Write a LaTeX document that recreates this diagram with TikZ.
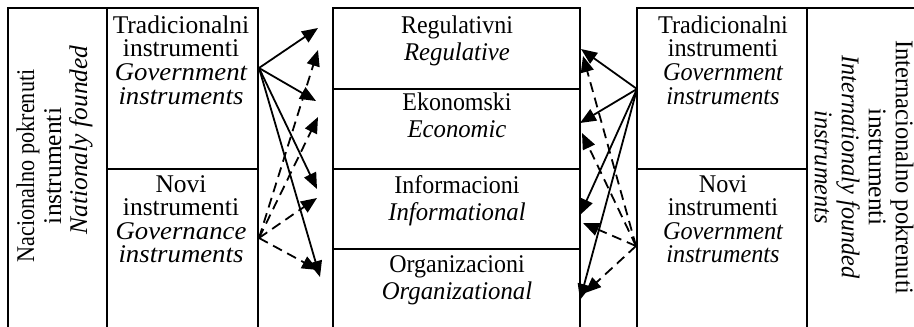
\documentclass[tikz,border=0pt]{standalone}
\usepackage{fontspec}
\setmainfont{Liberation Serif}
\usetikzlibrary{arrows.meta}

% horizontally scaled text lines
\newcommand{\hsq}[2]{\scalebox{#1}[1]{#2}}

\begin{document}
\begin{tikzpicture}[x=1pt,y=-1pt,
  frame/.style={line width=2pt},
  cell/.style={align=center, inner sep=0pt, anchor=north,
    font=\fontsize{25.5}{23.6}\selectfont},
  mid/.style={cell, font=\fontsize{25.5}{26.5}\selectfont},
  side/.style={align=center, inner sep=0pt,
    font=\fontsize{25.5}{27}\selectfont},
  link/.style={line width=1.8pt, -{Triangle[length=16pt,width=13pt]}},
  dlink/.style={link, dash pattern=on 10pt off 6pt},
]
\useasboundingbox (0,0) rectangle (914,327);

% left block: national instruments
\draw[frame] (8,327) -- (8,8) -- (258,8) -- (258,327);
\draw[frame] (107,8) -- (107,327);
\draw[frame] (107,169) -- (258,169);

% centre block: instrument types
\draw[frame] (333,327) -- (333,8) -- (580,8) -- (580,327);
\draw[frame] (333,89) -- (580,89);
\draw[frame] (333,169) -- (580,169);
\draw[frame] (333,249) -- (580,249);

% right block: international instruments
\draw[frame] (637,327) -- (637,8) -- (914,8);
\draw[frame] (807,8) -- (807,327);
\draw[frame] (637,169) -- (807,169);

% left texts
\node[side, rotate=90] (natl) at (39,166)
  {\hsq{0.87}{Nacionalno pokrenuti}\\instrumenti};
\node[side, rotate=90] (natlen) at (81,140) {\itshape Nationaly founded};
\node[cell] (ltrad) at (181,15.5)
  {Tradicionalni\\instrumenti\\
   \hsq{1.05}{\itshape Government}\\\hsq{1.05}{\itshape instruments}};
\node[cell] (lnew) at (181,175)
  {Novi\\instrumenti\\
   \hsq{1.05}{\itshape Governance}\\\hsq{1.05}{\itshape instruments}};

% centre texts
\node[mid] (reg) at (457,15.8) {\hsq{0.94}{Regulativni}\\\hsq{0.97}{\itshape Regulative}};
\node[mid] (eko) at (457,92.8) {\hsq{0.94}{Ekonomski}\\\hsq{0.97}{\itshape Economic}};
\node[mid] (inf) at (457,175.8) {\hsq{0.94}{Informacioni}\\\hsq{0.97}{\itshape Informational}};
\node[mid] (org) at (457,255.8) {\hsq{0.94}{Organizacioni}\\\hsq{0.97}{\itshape Organizational}};

% right texts
\node[cell] (rtrad) at (723,15.5)
  {\hsq{0.95}{Tradicionalni}\\\hsq{0.95}{instrumenti}\\
   \hsq{0.95}{\itshape Government}\\\hsq{0.95}{\itshape instruments}};
\node[cell] (rnew) at (723,175)
  {\hsq{0.95}{Novi}\\\hsq{0.95}{instrumenti}\\
   \hsq{0.95}{\itshape Government}\\\hsq{0.95}{\itshape instruments}};
\node[side, rotate=-90] (intl) at (864,167)
  {\hsq{0.96}{Internacionalno pokrenuti}\\instrumenti\\
   \hsq{0.95}{\itshape Internationaly founded}\\\hsq{0.95}{\itshape instruments}};

% arrow sources and targets
\coordinate (ls) at (259,68);
\coordinate (ld) at (259,238);
\coordinate (rs) at (637,89);
\coordinate (rd) at (636,246);

\coordinate (l1) at (318,28);
\coordinate (l2) at (316,101);
\coordinate (l3) at (317,189);
\coordinate (l4) at (320,277);
\coordinate (l5) at (318,50);
\coordinate (l6) at (318,117);
\coordinate (l7) at (317,198);
\coordinate (l8) at (318,270);

\coordinate (r1) at (581,49);
\coordinate (r2) at (580,123);
\coordinate (r3) at (580,215);
\coordinate (r4) at (580,300);
\coordinate (r5) at (583,56);
\coordinate (r6) at (582,133);
\coordinate (r7) at (583,223);
\coordinate (r8) at (585,293);

% left arrows
\foreach \t in {l1,l2,l3,l4} \draw[link] (ls) -- (\t);
\foreach \t in {l5,l6,l7,l8} \draw[dlink] (ld) -- (\t);

% right arrows
\foreach \t in {r1,r2,r3,r4} \draw[link] (rs) -- (\t);
\foreach \t in {r5,r6,r7,r8} \draw[dlink] (rd) -- (\t);
\end{tikzpicture}
\end{document}
